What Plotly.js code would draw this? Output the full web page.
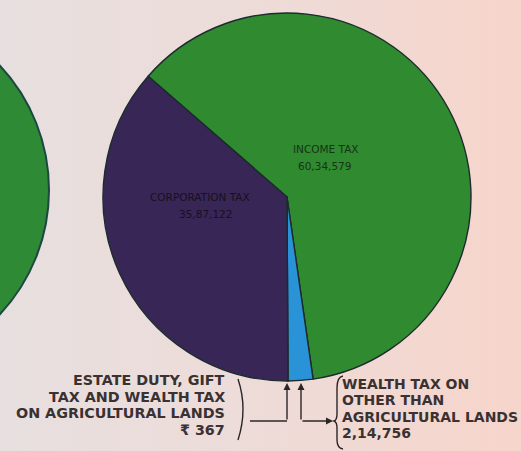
<!DOCTYPE html>
<html>
<head>
<meta charset="utf-8">
<script src="https://cdn.plot.ly/plotly-3.0.1.min.js"></script>
<style>
  html, body { margin: 0; padding: 0; }
  body { width: 521px; height: 451px; overflow: hidden;
    background: linear-gradient(90deg, #e7dfdf 0%, #eddcd9 45%, #f6d5cb 100%); }
  #chart { width: 521px; height: 451px; }
</style>
</head>
<body>
<div id="chart"></div>
<script>
// ---- data ----
const categories = [
  'INCOME TAX',
  'WEALTH TAX ON OTHER THAN AGRICULTURAL LANDS',
  'ESTATE DUTY, GIFT TAX AND WEALTH TAX ON AGRICULTURAL LANDS',
  'CORPORATION TAX'
];
const values = [6034579, 214756, 367, 3587122];
const valueLabels = ['60,34,579', '2,14,756', '\u20B9 367', '35,87,122'];
const sliceColors = ['#2f8a30', '#2a92d6', '#e9d6d4', '#382656'];

// label lines for the outside call-outs
const estateLines = ['ESTATE DUTY, GIFT', 'TAX AND WEALTH TAX', 'ON AGRICULTURAL LANDS', valueLabels[2]];
const wealthLines = ['WEALTH TAX ON', 'OTHER THAN', 'AGRICULTURAL LANDS', valueLabels[1]];

// ---- helpers: pixel -> paper ----
const W = 521, H = 451;
const px = x => x / W;
const py = y => 1 - y / H;

const trace = {
  type: 'pie',
  labels: categories,
  values: values,
  sort: false,
  direction: 'clockwise',
  rotation: -49,
  textinfo: 'none',
  hoverinfo: 'skip',
  showlegend: false,
  marker: { colors: sliceColors, line: { color: '#1c2b2d', width: 1.4 } },
  domain: { x: [px(103), px(471)], y: [py(381), py(13)] }
};

const leftFont = { family: 'DejaVu Sans', size: 14.3, color: '#3a3131', weight: 'bold' };
const rightFont = { family: 'DejaVu Sans', size: 14, color: '#3a3131', weight: 'bold' };
const inFontG = { family: 'DejaVu Sans', size: 10.5, color: '#173317' };
const inFontP = { family: 'DejaVu Sans', size: 10.5, color: '#161020' };
const annotations = [];

function inLabel(text, x, y, font) {
  annotations.push({ xref: 'paper', yref: 'paper', x: px(x), y: py(y), xanchor: 'center', yanchor: 'middle',
    text: text, showarrow: false, font: font });
}
// inside labels
inLabel(categories[0], 326, 149, inFontG);
inLabel(valueLabels[0], 324, 166, inFontG);
inLabel(categories[3], 200, 197, inFontP);
inLabel(valueLabels[3], 205, 214, inFontP);

// outside call-out lines
const estateY = [380, 396.5, 413, 429.5];
estateLines.forEach((t, i) => annotations.push({ xref: 'paper', yref: 'paper',
  x: px(227), y: py(estateY[i]), xanchor: 'right', yanchor: 'middle',
  text: t, showarrow: false, font: leftFont }));
const wealthY = [384, 400, 417, 433];
wealthLines.forEach((t, i) => annotations.push({ xref: 'paper', yref: 'paper',
  x: px(340), y: py(wealthY[i]), xanchor: 'left', yanchor: 'middle',
  text: t, showarrow: false, font: rightFont }));

// arrows
const arrowBase = { xref: 'paper', yref: 'paper', axref: 'paper', ayref: 'paper', text: '',
  showarrow: true, arrowhead: 2, arrowsize: 1, arrowwidth: 1.4, arrowcolor: '#2b2626' };
annotations.push(Object.assign({}, arrowBase, { x: px(287), y: py(383), ax: px(287), ay: py(421) }));
annotations.push(Object.assign({}, arrowBase, { x: px(301), y: py(383), ax: px(301), ay: py(421) }));
annotations.push(Object.assign({}, arrowBase, { x: px(333), y: py(421), ax: px(301), ay: py(421) }));

function P(pts) { // build a path string in paper units from pixel commands
  return pts.map(p => typeof p === 'string' ? p : (px(p[0]).toFixed(5) + ',' + py(p[1]).toFixed(5))).join(' ');
}

const shapes = [
  // part of the neighbouring pie on the left
  { type: 'circle', xref: 'paper', yref: 'paper', layer: 'below',
    x0: px(-315), x1: px(49), y0: py(372), y1: py(8),
    fillcolor: '#2e8a34', line: { color: '#1c4742', width: 2 } },
  // horizontal connector on the left
  { type: 'line', xref: 'paper', yref: 'paper', x0: px(250), x1: px(287), y0: py(421), y1: py(421),
    line: { color: '#2b2626', width: 1.4 } },
  // left bracket ")"
  { type: 'path', xref: 'paper', yref: 'paper',
    path: P(['M', [238, 379], 'Q', [248, 409], [238, 440]]),
    line: { color: '#2b2626', width: 1.4 } },
  // right brace "{"
  { type: 'path', xref: 'paper', yref: 'paper',
    path: P(['M', [343, 376], 'Q', [337, 377], [337, 388], 'L', [337, 414], 'Q', [337, 420], [334, 421],
             'Q', [337, 422], [337, 428], 'L', [337, 440], 'Q', [337, 448], [343, 449]]),
    line: { color: '#2b2626', width: 1.4 } }
];

const layout = {
  width: W, height: H,
  margin: { l: 0, r: 0, t: 0, b: 0 },
  paper_bgcolor: 'rgba(0,0,0,0)',
  plot_bgcolor: 'rgba(0,0,0,0)',
  showlegend: false,
  annotations: annotations,
  shapes: shapes
};

Plotly.newPlot('chart', [trace], layout, { displayModeBar: false, staticPlot: true });
</script>
</body>
</html>
